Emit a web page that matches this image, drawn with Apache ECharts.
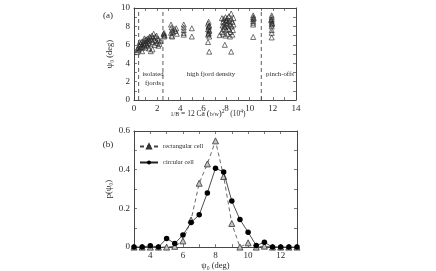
<!DOCTYPE html>
<html><head><meta charset="utf-8">
<script src="https://cdn.jsdelivr.net/npm/echarts@6/dist/echarts.min.js"></script>
<style>html,body{margin:0;padding:0;background:#fff}#c{width:436px;height:271px}</style>
</head><body><div id="c"></div>
<script>
// ---- Panel (a): psi0 vs 1/B  (x in 10^4, y in deg)
const isolatedPts = [[0.25,5.2],[0.3,5.5],[0.35,5.7],[0.4,5.4],[0.45,5.9],[0.5,5.6],[0.55,6.1],[0.6,5.8],[0.65,6.3],[0.7,6.0],[0.75,5.7],[0.8,6.4],[0.85,6.1],[0.9,5.9],[0.95,6.5],[1.0,6.2],[1.05,6.6],[1.1,6.0],[1.15,6.4],[1.2,6.7],[1.25,6.2],[1.3,5.6],[1.3,6.5],[1.35,6.9],[1.4,6.1],[1.45,5.3],[1.5,6.6],[1.55,7.0],[1.6,6.3],[1.6,5.5],[1.65,6.8],[1.7,7.2],[1.75,6.5],[1.8,6.0],[1.85,6.9],[1.9,6.4],[1.95,7.0],[2.0,6.2],[2.05,6.7],[2.1,5.9],[2.15,6.5],[2.2,6.1],[2.3,6.4],[0.5,6.3],[0.9,6.7],[1.2,5.9],[1.0,5.7],[1.4,6.8],[0.7,5.3]];
const densePts = [[2.6,6.9],[2.6,7.1],[2.6,7.3],[2.65,7.0],[2.55,7.2],
  [3.2,8.2],[3.25,7.9],[3.3,7.6],[3.2,7.3],[3.25,7.0],[3.35,7.4],[3.5,7.7],[3.6,7.5],[3.7,7.2],[3.65,7.8],[3.3,6.9],
  [4.3,8.2],[4.3,7.9],[4.3,7.6],[4.3,7.3],[4.3,7.1],[5.0,7.8],[5.0,6.9],
  [6.45,8.5],[6.4,8.3],[6.5,8.1],[6.45,7.9],[6.4,7.7],[6.5,7.5],[6.45,7.3],[6.4,7.1],[6.5,6.9],[6.45,8.0],[6.5,7.6],[6.4,6.3],[6.5,5.25],[6.45,7.2],
  [7.6,8.9],[7.7,8.5],[7.65,8.1],[7.7,7.7],[7.6,7.4],[7.75,8.8],[7.8,8.3],[7.85,7.9],[7.9,9.0],[7.95,8.6],[8.0,8.2],[8.0,7.6],[8.05,8.9],[8.1,8.4],[8.15,8.0],[8.2,9.1],[8.2,7.7],[8.25,8.6],[8.3,8.2],[8.35,7.4],[8.4,9.4],[8.4,8.8],[8.45,8.0],[8.5,8.5],[8.55,7.6],[8.5,7.1],[8.6,8.9],[7.4,7.05],[7.85,6.0],[8.4,5.25],[8.1,7.2],[7.9,7.0],[8.3,6.9],[7.7,7.2],[8.6,8.2],[8.0,8.7],[7.8,8.0]];
const pinchPts = [[10.3,9.2],[10.3,9.0],[10.3,8.8],[10.3,8.6],[10.3,8.4],[10.3,8.2],[10.35,8.9],[10.3,6.85],
  [11.9,9.2],[11.9,9.0],[11.9,8.8],[11.9,8.6],[11.9,8.4],[11.9,8.2],[11.9,8.0],[11.9,7.6],[11.9,7.3],[11.9,6.8],[11.85,8.7],[11.95,8.3]];
const regionBounds = [0.4, 2.5, 11];
const regionNames = ['isolated', 'fjords', 'high fjord density', 'pinch-offs'];

// ---- Panel (b): distribution p(psi0)
const psiBins =      [3, 3.5, 4, 4.5, 5, 5.5, 6, 6.5, 7, 7.5, 8, 8.5, 9, 9.5, 10, 10.5, 11, 11.5, 12, 12.5, 13];
const circularP =    [0, 0, 0.007, 0, 0.045, 0.019, 0.062, 0.127, 0.167, 0.28, 0.408, 0.388, 0.238, 0.142, 0.077, 0.008, 0.025, 0, 0, 0, 0];
const rectangularP = [0, 0, 0, 0, 0, 0.004, 0.032, 0.14, 0.33, 0.43, 0.549, 0.365, 0.122, 0, 0.022, 0, 0.005, 0, 0, 0, 0];

const FONT = '"Liberation Serif", "DejaVu Serif", serif';
const INK = '#2a2a2a';

function axis(o) {
  return Object.assign({
    type: 'value',
    axisLine: { show: true, onZero: false, lineStyle: { color: '#333', width: 0.9 } },
    axisTick: { show: true, inside: true, length: 3, lineStyle: { color: '#444', width: 0.7 } },
    splitLine: { show: false },
    axisLabel: { show: true, fontFamily: FONT, fontSize: 9, color: INK, margin: 4 },
    nameTextStyle: { fontFamily: FONT, fontSize: 8.5, color: INK }
  }, o);
}
const evenLabel = v => (Math.round(v) % 2 === 0 ? String(v) : '');
const fifthLabel = v => (Math.round(v * 10) % 2 === 0 ? String(Math.round(v * 10) / 10) : '');
const lab = f => ({ fontFamily: FONT, fontSize: 9, color: INK, margin: 4, formatter: f, showMaxLabel: true, showMinLabel: true });

const grids = [
  { left: 134, top: 8, width: 162, height: 92 },
  { left: 134, top: 131, width: 163, height: 117 }
];
const xAxes = [
  axis({ gridIndex: 0, min: 0, max: 14, interval: 1, position: 'bottom', axisLabel: lab(evenLabel) }),
  axis({ gridIndex: 0, min: 0, max: 14, interval: 1, position: 'top', axisLabel: { show: false } }),
  axis({ gridIndex: 1, min: 3, max: 13, interval: 1, position: 'bottom', name: 'ψ₀ (deg)', nameLocation: 'middle', nameGap: 13,
         axisLabel: lab(evenLabel) }),
  axis({ gridIndex: 1, min: 3, max: 13, interval: 1, position: 'top', axisLabel: { show: false } })
];
const yAxes = [
  axis({ gridIndex: 0, min: 0, max: 10, interval: 1, position: 'left', name: 'ψ₀ (deg)', nameLocation: 'middle', nameGap: 20,
         axisLabel: lab(evenLabel) }),
  axis({ gridIndex: 0, min: 0, max: 10, interval: 1, position: 'right', axisLabel: { show: false } }),
  axis({ gridIndex: 1, min: 0, max: 0.6, interval: 0.1, position: 'left', name: 'p(ψ₀)', nameLocation: 'middle', nameGap: 21,
         axisLabel: lab(fifthLabel) }),
  axis({ gridIndex: 1, min: 0, max: 0.6, interval: 0.1, position: 'right', axisLabel: { show: false } })
];

const triStyle = { color: 'rgba(255,255,255,0)', borderColor: '#222', borderWidth: 0.8 };
const scatterSeries = [isolatedPts, densePts, pinchPts].map(pts => ({
  type: 'scatter', xAxisIndex: 0, yAxisIndex: 0, data: pts, symbol: 'triangle', symbolSize: 5,
  itemStyle: triStyle, silent: true, z: 3
}));
const boundarySeries = regionBounds.map(b => ({
  type: 'line', xAxisIndex: 0, yAxisIndex: 0, data: [[b, 0], [b, 10]], symbol: 'none',
  lineStyle: { color: '#333', width: 0.8, type: [4, 3] }, silent: true, z: 2
}));

const pairs = arr => psiBins.map((x, i) => [x, arr[i]]);
const distSeries = [
  { name: 'rectangular cell', type: 'line', xAxisIndex: 2, yAxisIndex: 2, data: pairs(rectangularP),
    symbol: 'triangle', symbolSize: 6, showAllSymbol: true,
    lineStyle: { color: '#444', width: 0.8, type: [4, 3] },
    itemStyle: { color: '#c4c4c4', borderColor: '#333', borderWidth: 0.8 }, z: 3 },
  { name: 'circular cell', type: 'line', xAxisIndex: 2, yAxisIndex: 2, data: pairs(circularP),
    symbol: 'circle', symbolSize: 5.5, showAllSymbol: true,
    lineStyle: { color: '#222', width: 0.8 },
    itemStyle: { color: '#000', borderColor: '#000', borderWidth: 0 }, z: 4 }
];

const txt = (x, y, s, size) => ({ type: 'text', x, y,
  style: { text: s, fontFamily: FONT, fontSize: size, fill: INK, align: 'center', verticalAlign: 'middle' } });

const graphics = [
  txt(108, 16, '(a)', 9),
  txt(108, 145, '(b)', 9),
  txt(153, 74, regionNames[0], 6.8),
  txt(153, 83, regionNames[1], 6.8),
  txt(211, 74, regionNames[2], 6.8),
  txt(280, 74, regionNames[3], 6.8),
  {
    type: 'text', x: 208, y: 114,
    style: {
      text: '{f|1/B} = 12 Ca {p|(}{f|b/w}{p|)}{s|2}   (10{s|4})',
      fontFamily: FONT, fontSize: 7.5, fill: INK, align: 'center', verticalAlign: 'middle',
      rich: {
        f: { fontFamily: FONT, fontSize: 6, fill: INK },
        p: { fontFamily: FONT, fontSize: 9, fill: INK },
        s: { fontFamily: FONT, fontSize: 5.5, fill: INK, verticalAlign: 'top', padding: [0, 0, 5, 0] }
      }
    }
  }
];

const chart = echarts.init(document.getElementById('c'), null, { renderer: 'canvas' });
chart.setOption({
  animation: false,
  backgroundColor: '#fff',
  grid: grids,
  xAxis: xAxes,
  yAxis: yAxes,
  legend: {
    data: ['rectangular cell', 'circular cell'], orient: 'vertical', left: 134, top: 138,
    itemWidth: 18, itemHeight: 5, itemGap: 9, selectedMode: false,
    textStyle: { fontFamily: FONT, fontSize: 6.5, color: INK }
  },
  series: [...boundarySeries, ...scatterSeries, ...distSeries],
  graphic: graphics
});
</script></body></html>
